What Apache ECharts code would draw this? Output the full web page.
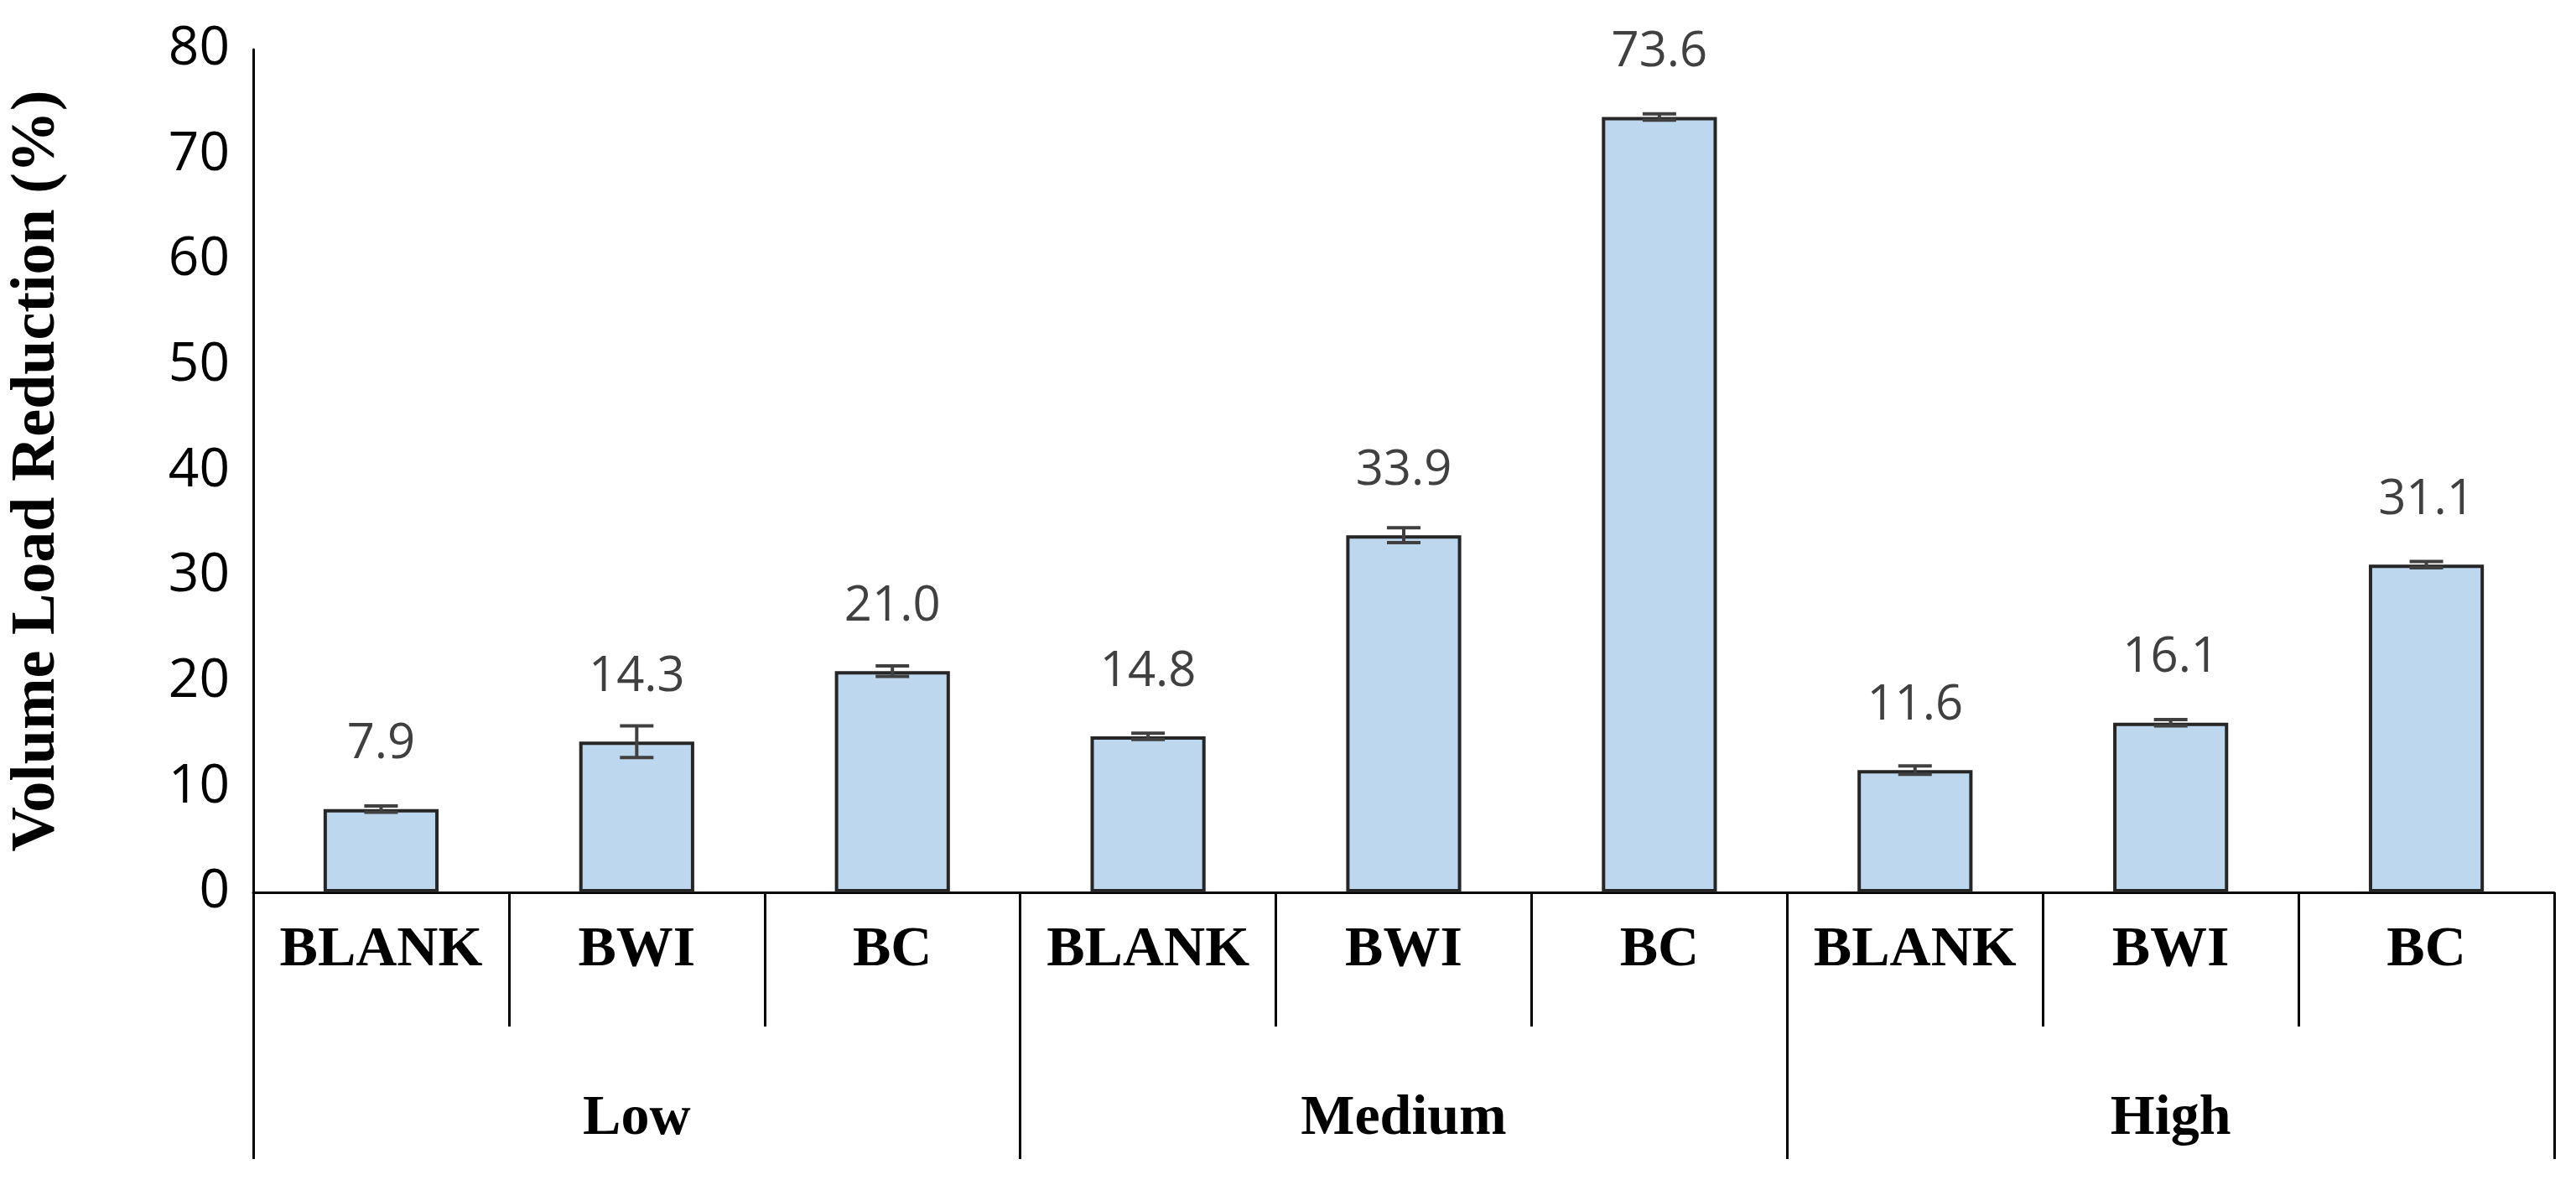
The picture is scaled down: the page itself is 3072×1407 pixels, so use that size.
<!DOCTYPE html>
<html>
<head>
<meta charset="UTF-8">
<script src="https://cdn.jsdelivr.net/npm/echarts@6/dist/echarts.min.js"></script>
<style>html,body{margin:0;background:#fff}#c{width:3072px;height:1407px}</style>
</head>
<body>
<div id="c"></div>
<script>
var treatments = ['BLANK', 'BWI', 'BC', 'BLANK', 'BWI', 'BC', 'BLANK', 'BWI', 'BC'];
var groups = ['Low', 'Medium', 'High'];
var values = [7.9, 14.3, 21.0, 14.8, 33.9, 73.6, 11.6, 16.1, 31.1];
var errors = [0.3, 1.5, 0.5, 0.3, 0.7, 0.3, 0.4, 0.3, 0.3];
var yTicks = [0, 10, 20, 30, 40, 50, 60, 70, 80];

var chart = echarts.init(document.getElementById('c'));
var serif = 'Liberation Serif';
chart.setOption({
    animation: false,
    grid: {left: 294, right: 26, top: 59, bottom: 343},
    xAxis: [{
        type: 'category',
        data: treatments,
        axisLine: {lineStyle: {color: '#000', width: 3}},
        axisTick: {show: true, interval: 0, length: 160, lineStyle: {color: '#000', width: 3}},
        axisLabel: {interval: 0, fontFamily: serif, fontWeight: 'bold', fontSize: 68, color: '#000', margin: 35}
    }, {
        type: 'category',
        data: groups,
        position: 'bottom',
        axisLine: {show: false},
        axisTick: {show: true, interval: 0, length: 318, lineStyle: {color: '#000', width: 3}},
        axisLabel: {interval: 0, fontFamily: serif, fontWeight: 'bold', fontSize: 68, color: '#000', margin: 236}
    }],
    yAxis: {
        type: 'value', min: yTicks[0], max: yTicks[yTicks.length - 1], interval: 10,
        name: 'Volume Load Reduction (%)', nameLocation: 'middle', nameGap: 220,
        nameTextStyle: {fontFamily: serif, fontWeight: 'bold', fontSize: 74, color: '#000'},
        axisLine: {show: true, lineStyle: {color: '#000', width: 3}},
        axisTick: {show: false},
        splitLine: {show: false},
        axisLabel: {fontFamily: 'Open Sans', fontSize: 64, color: '#000', margin: 28}
    },
    series: [{
        type: 'bar',
        data: values,
        barWidth: '45%',
        itemStyle: {color: '#BDD7EE', borderColor: '#262626', borderWidth: 4},
        label: {show: true, position: 'top', distance: 48, fontFamily: 'Open Sans', fontSize: 58, color: '#404040',
            formatter: function (p) { return p.value.toFixed(1); }}
    }, {
        type: 'custom',
        data: values.map(function (v, i) { return [i, v - errors[i], v + errors[i]]; }),
        renderItem: function (params, api) {
            var lo = api.coord([api.value(0), api.value(1)]);
            var hi = api.coord([api.value(0), api.value(2)]);
            var h = 20, st = {stroke: '#404040', lineWidth: 4};
            return {type: 'group', children: [
                {type: 'line', shape: {x1: lo[0], y1: lo[1], x2: hi[0], y2: hi[1]}, style: st},
                {type: 'line', shape: {x1: lo[0] - h, y1: lo[1], x2: lo[0] + h, y2: lo[1]}, style: st},
                {type: 'line', shape: {x1: hi[0] - h, y1: hi[1], x2: hi[0] + h, y2: hi[1]}, style: st}
            ]};
        },
        z: 10
    }]
});
</script>
</body>
</html>
